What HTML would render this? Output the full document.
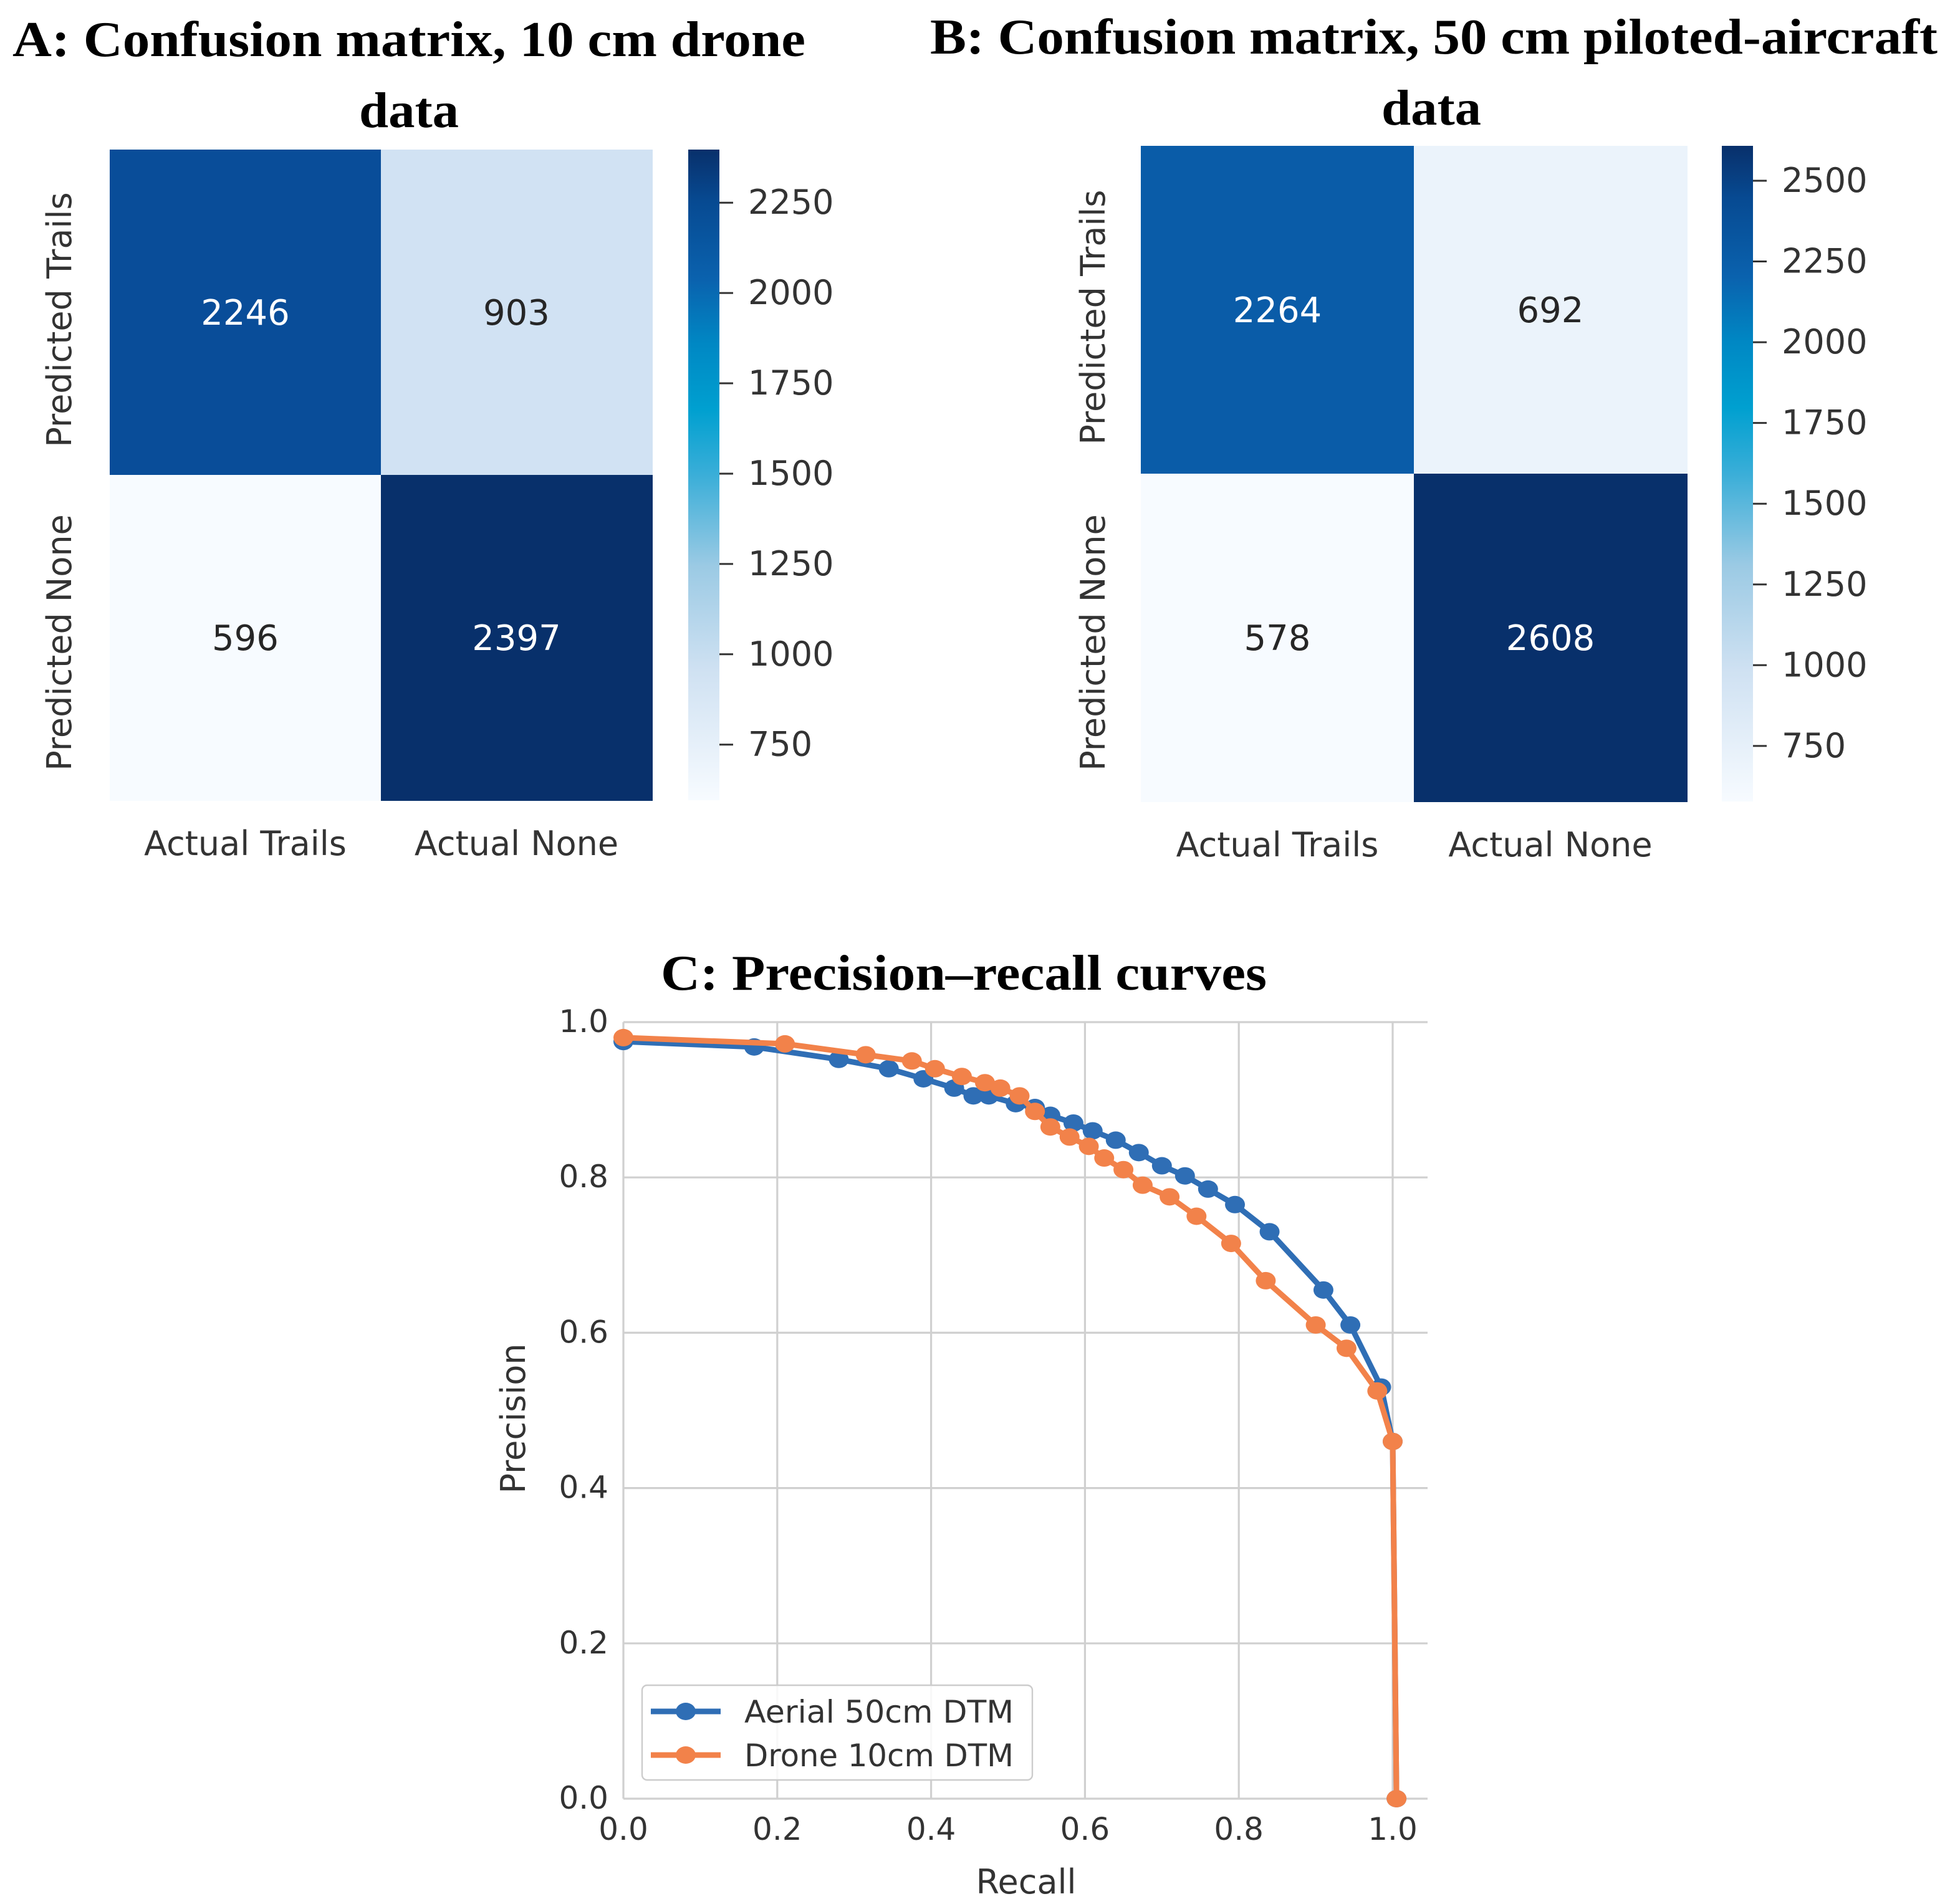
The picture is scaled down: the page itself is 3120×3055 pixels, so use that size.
<!DOCTYPE html>
<html><head><meta charset="utf-8"><style>
html,body{margin:0;padding:0;background:#fff}
svg{display:block}
.t{font-family:"Liberation Serif",serif;font-weight:bold;font-size:40px;fill:#000}
.l{font-family:"DejaVu Sans","Liberation Sans",sans-serif;font-size:25px;fill:#333}
</style></head><body>
<svg id="s" width="3120" height="3055" viewBox="0 0 1560 1527.5" xmlns="http://www.w3.org/2000/svg">
<text class="t" x="328" y="45" text-anchor="middle" textLength="636" lengthAdjust="spacingAndGlyphs">A: Confusion matrix, 10 cm drone</text>
<text class="t" x="328" y="102" text-anchor="middle" textLength="80" lengthAdjust="spacingAndGlyphs">data</text>
<text class="t" x="1150" y="43" text-anchor="middle" textLength="808" lengthAdjust="spacingAndGlyphs">B: Confusion matrix, 50 cm piloted-aircraft</text>
<text class="t" x="1148" y="100" text-anchor="middle" textLength="80" lengthAdjust="spacingAndGlyphs">data</text>
<text class="t" x="773" y="794" text-anchor="middle" textLength="486" lengthAdjust="spacingAndGlyphs">C: Precision–recall curves</text>
<defs><linearGradient id="cb" x1="0" y1="1" x2="0" y2="0">
<stop offset="0" stop-color="#f7fbff"/><stop offset="0.2" stop-color="#cfe1f2"/><stop offset="0.36" stop-color="#9bcae4"/>
<stop offset="0.5" stop-color="#3aaed8"/><stop offset="0.6" stop-color="#00a0d0"/><stop offset="0.7" stop-color="#0088c4"/>
<stop offset="0.8" stop-color="#0a62ae"/><stop offset="0.92" stop-color="#074a92"/><stop offset="1" stop-color="#08306b"/>
</linearGradient></defs>
<g id="hm"></g>
<g id="pr"></g>
</svg>
<script>
// ---- heatmap data ----
const rowLabels = ["Predicted Trails","Predicted None"];
const colLabels = ["Actual Trails","Actual None"];
const valuesA = [[2246,903],[596,2397]];
const valuesB = [[2264,692],[578,2608]];
const ticksA = [750,1000,1250,1500,1750,2000,2250];
const ticksB = [750,1000,1250,1500,1750,2000,2250,2500];
// ---- PR data ----
const recallAerial = [0.0,0.17,0.28,0.345,0.39,0.43,0.455,0.475,0.51,0.535,0.555,0.585,0.61,0.64,0.67,0.70,0.73,0.76,0.795,0.84,0.91,0.945,0.985,1.0,1.005];
const precisionAerial = [0.975,0.968,0.952,0.94,0.927,0.915,0.905,0.905,0.895,0.89,0.88,0.87,0.86,0.848,0.832,0.815,0.802,0.785,0.765,0.73,0.655,0.61,0.53,0.46,0.0];
const recallDrone = [0.0,0.21,0.315,0.375,0.405,0.44,0.47,0.49,0.515,0.535,0.555,0.58,0.605,0.625,0.65,0.675,0.71,0.745,0.79,0.835,0.9,0.94,0.98,1.0,1.005];
const precisionDrone = [0.98,0.972,0.958,0.95,0.94,0.93,0.922,0.915,0.905,0.885,0.865,0.852,0.84,0.825,0.81,0.79,0.775,0.75,0.715,0.667,0.61,0.58,0.525,0.46,0.0];
const axisTicks = [0,0.2,0.4,0.6,0.8,1.0];
const tickText = ["0.0","0.2","0.4","0.6","0.8","1.0"];

const NS="http://www.w3.org/2000/svg";
function mk(tag,attrs,parent,txt){const e=document.createElementNS(NS,tag);for(const k in attrs)e.setAttribute(k,attrs[k]);if(txt!==undefined)e.textContent=txt;parent.appendChild(e);return e;}
const stops=[[0,[247,251,255]],[0.18,[207,225,242]],[0.36,[155,202,228]],[0.5,[58,174,216]],[0.6,[0,160,208]],[0.7,[0,136,196]],[0.8,[10,98,174]],[0.92,[9,76,152]],[1,[8,48,107]]];
function cmap(f){f=Math.max(0,Math.min(1,f));for(let i=1;i<stops.length;i++){if(f<=stops[i][0]){const a=stops[i-1],b=stops[i],t=(f-a[0])/(b[0]-a[0]);return "rgb("+a[1].map((v,j)=>Math.round(v+(b[1][j]-v)*t)).join(",")+")";}}return "rgb(8,48,107)";}

function heatmap(id,vals,ticks,x0,y0,x1,y1,cbx,labX){
  const g=document.getElementById('hm');
  const flat=vals.flat(),mn=Math.min(...flat),mx=Math.max(...flat);
  const cw=(x1-x0)/2,ch=(y1-y0)/2;
  vals.forEach((row,r)=>row.forEach((v,c)=>{
    const f=(v-mn)/(mx-mn);
    const rc=mk('rect',{x:x0+c*cw,y:y0+r*ch,width:cw+0.5,height:ch+0.5,fill:cmap(f)},g);
    
    
    const t=mk('text',{x:x0+c*cw+cw/2,y:y0+r*ch+ch/2+10,'text-anchor':'middle',class:'l',style:'font-size:28px;fill:'+(f>0.5?'#fff':'#262626')},g,String(v));
    
    
  }));
  rowLabels.forEach((s,r)=>{const cy=y0+r*ch+ch/2+(r?4:6);
    const t=mk('text',{x:labX,y:cy,'text-anchor':'middle',class:'l',style:'font-size:27px',transform:'rotate(-90 '+labX+' '+cy+')'},g,s);
    
    });
  colLabels.forEach((s,c)=>{const t=mk('text',{x:x0+c*cw+cw/2,y:y1+44,'text-anchor':'middle',class:'l',style:'font-size:27px'},g,s);
    
    });
  const cb=mk('rect',{x:cbx,y:y0,width:25,height:y1-y0,fill:'url(#cb)'},g);
  
  
  ticks.forEach(v=>{const y=y1-(v-mn)/(mx-mn)*(y1-y0);
    mk('line',{x1:cbx+25,x2:cbx+36,y1:y,y2:y,stroke:'#333','stroke-width':1.5},g);
    const t=mk('text',{x:cbx+48,y:y+9,class:'l',style:'font-size:27px'},g,String(v));
    
    });
}
heatmap('matrix-a',valuesA,ticksA,88,120,523,642,552,57);
heatmap('matrix-b',valuesB,ticksB,915,117,1353,643,1381,886);

// ---- PR chart ----
const g=document.getElementById('pr');
const X0=500,X1=1117,Y0=1443,Y1=820,XR=1145;
const sx=v=>X0+v*(X1-X0), sy=v=>Y0-v*(Y0-Y1);
axisTicks.forEach((v,i)=>{
  mk('line',{x1:sx(v),x2:sx(v),y1:Y1,y2:Y0,stroke:'#d0d0d0','stroke-width':1.6},g);
  mk('line',{x1:X0,x2:XR,y1:sy(v),y2:sy(v),stroke:'#d0d0d0','stroke-width':1.6},g);
  const tx=mk('text',{x:sx(v),y:Y0+33,'text-anchor':'middle',class:'l'},g,tickText[i]);
  
  
  const ty=mk('text',{x:X0-12,y:sy(v)+8,'text-anchor':'end',class:'l'},g,tickText[i]);
  
  
});
const xt=mk('text',{x:823,y:1519,'text-anchor':'middle',class:'l',style:'font-size:27px'},g,'Recall');


const yt=mk('text',{x:421,y:1138,'text-anchor':'middle',class:'l',style:'font-size:27px',transform:'rotate(-90 421 1138)'},g,'Precision');


function series(name,rx,py,col){
  const pts=rx.map((r,i)=>sx(r)+','+sy(py[i])).join(' ');
  const pl=mk('polyline',{points:pts,fill:'none',stroke:col,'stroke-width':4.5,'stroke-linejoin':'round'},g);
  
  
  rx.forEach((r,i)=>{const c=mk('ellipse',{cx:sx(r),cy:sy(py[i]),rx:8,ry:7,fill:col},g);
    
    });
}
series('aerial-50cm',recallAerial,precisionAerial,'#2f6eb5');
series('drone-10cm',recallDrone,precisionDrone,'#f2824a');
const lg=mk('g',{},g);


mk('rect',{x:515,y:1352,width:313,height:76,rx:4,fill:'#fff','fill-opacity':0.85,stroke:'#ccc','stroke-width':1.2},lg);
[['Aerial 50cm DTM','#2f6eb5',1373],['Drone 10cm DTM','#f2824a',1408]].forEach(([s,c,y])=>{
  const e=mk('g',{},lg);
  
  
  mk('line',{x1:522,x2:578,y1:y,y2:y,stroke:c,'stroke-width':4.5},e);
  mk('ellipse',{cx:550,cy:y,rx:8,ry:7,fill:c},e);
  mk('text',{x:597,y:y+9,class:'l',textLength:216,lengthAdjust:'spacingAndGlyphs'},e,s);
});
</script>
</body></html>
